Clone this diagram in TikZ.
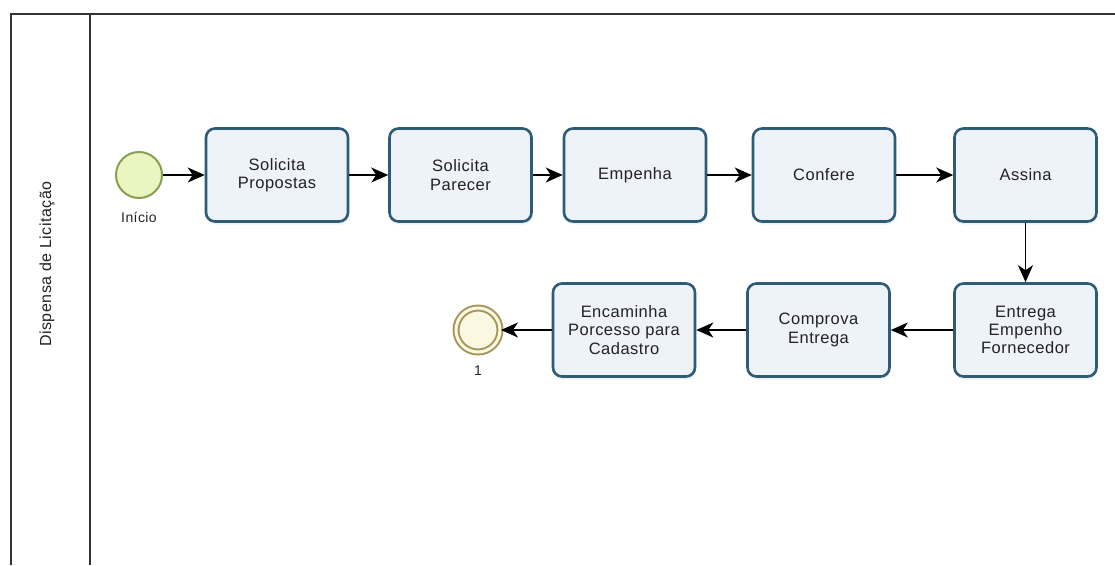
\documentclass[tikz,border=0pt]{standalone}
\usepackage{fontspec}
\setmainfont{Liberation Sans}[LetterSpace=3]
\usetikzlibrary{arrows.meta,shadows}
\definecolor{taskfill}{HTML}{EEF3F9}
\definecolor{taskline}{HTML}{2E5B75}
\definecolor{startfill}{HTML}{EAF5C0}
\definecolor{startline}{HTML}{86A050}
\definecolor{endfill}{HTML}{FBF8E2}
\definecolor{endline}{HTML}{A8965A}
\definecolor{frameline}{HTML}{333333}
\definecolor{textcol}{HTML}{222222}
\begin{document}
\begin{tikzpicture}[x=1pt,y=-1pt,
  task/.style={rectangle, rounded corners=9pt, draw=taskline, line width=2.6pt,
    fill=taskfill, minimum width=142pt, minimum height=93pt, inner sep=2pt,
    align=center, text=textcol, font=\fontsize{16.5}{18.3}\selectfont,
    drop shadow={opacity=0.18, shadow xshift=1pt, shadow yshift=-3pt, fill=taskline!40}},
  startev/.style={circle, draw=startline, line width=2pt, fill=startfill,
    minimum size=46pt, inner sep=0pt},
  endev/.style={circle, draw=endline, line width=2pt, fill=endfill,
    minimum size=44pt, inner sep=0pt, double=endfill, double distance=3pt},
  lbl/.style={font=\fontsize{14}{16}\selectfont, text=textcol, inner sep=0pt},
  flow/.style={-{Stealth[length=17pt,width=15pt,inset=5pt]}, line width=1.4pt, black},
  frame/.style={draw=frameline, line width=1.3pt}]
\useasboundingbox (0,0) rectangle (1115,565);

% pool frame and lane header
\draw[frame] (1115,14) -- (11,14) -- (11,565);
\draw[frame] (90,14) -- (90,565);
\node[lbl, rotate=90, font=\fontsize{16}{19}\selectfont] (lane) at (47,264) {Dispensa de Licitação};

% events
\node[startev] (start) at (139,175) {};
\node[lbl] (startlbl) at (139,217) {Início};
\node[endev] (end) at (478,330) {};
\node[lbl] (endlbl) at (478,371) {1};

% tasks, first row
\node[task] (sp)   at (277,175)    {Solicita\\Propostas};
\node[task] (spar) at (460.5,175)  {Solicita\\Parecer};
\node[task] (emp)  at (635,175)    {Empenha};
\node[task] (conf) at (824,175)    {Confere};
\node[task] (ass)  at (1025.5,175) {Assina};

% tasks, second row
\node[task] (ent)  at (1025.5,330) {Entrega\\Empenho\\Fornecedor};
\node[task] (comp) at (818.5,330)  {Comprova\\Entrega};
\node[task] (enc)  at (624,330)    {Encaminha\\Porcesso para\\Cadastro};

% sequence flows
\draw[flow] (start) -- (sp);
\draw[flow] (sp) -- (spar);
\draw[flow] (spar) -- (emp);
\draw[flow] (emp) -- (conf);
\draw[flow] (conf) -- (ass);
\draw[flow] (ass) -- (ent);
\draw[flow] (ent) -- (comp);
\draw[flow] (comp) -- (enc);
\draw[flow] (enc) -- (end);
\end{tikzpicture}
\end{document}
